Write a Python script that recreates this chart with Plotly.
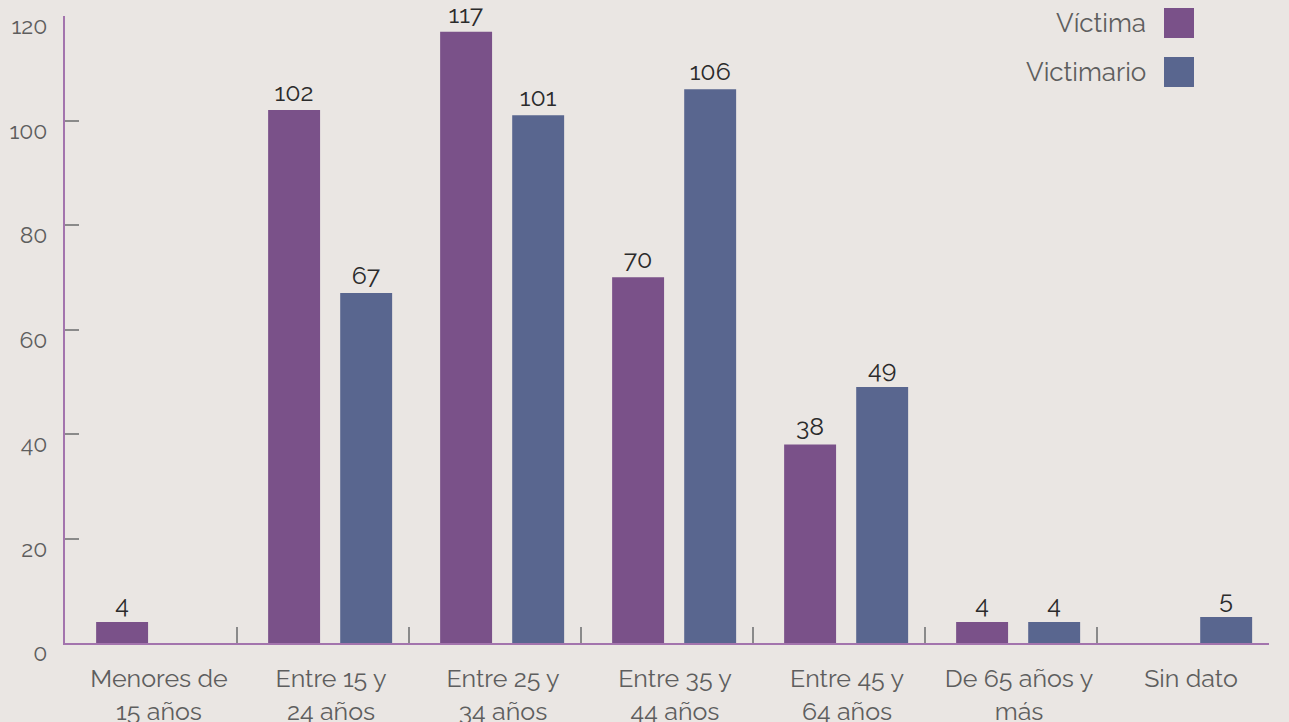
import plotly.graph_objects as go

categorias = ["Menores de<br>15 años", "Entre 15 y<br>24 años", "Entre 25 y<br>34 años",
              "Entre 35 y<br>44 años", "Entre 45 y<br>64 años", "De 65 años y<br>más", "Sin dato"]
victima = [4, 102, 117, 70, 38, 4, None]
victimario = [None, 67, 101, 106, 49, 4, 5]
y_ticks = [0, 20, 40, 60, 80, 100, 120]

COL_VICTIMA = "#7A5189"
COL_VICTIMARIO = "#59668F"
BG = "#EAE6E3"
FONT = "Raleway, Lato, 'Open Sans', sans-serif"

BAR_W = 0.302
series = [("Víctima", victima, COL_VICTIMA, -0.319), ("Victimario", victimario, COL_VICTIMARIO, 0.100)]

fig = go.Figure()
for name, vals, col, off in series:
    fig.add_trace(go.Bar(
        x=categorias, y=vals, name=name, marker_color=col, marker_line_width=0,
        width=BAR_W, offset=off,
        text=[("" if v is None else str(v)) for v in vals], textposition="outside",
        textfont=dict(size=25, color="#2b2b2b", family=FONT), cliponaxis=False,
        showlegend=False,
    ))

fig.update_layout(
    width=1289, height=722,
    margin=dict(l=65, r=20, t=16, b=79, autoexpand=False),
    paper_bgcolor=BG, plot_bgcolor=BG,
    barmode="group",
    font=dict(family=FONT, size=22, color="#5e5e5e"),
    xaxis=dict(
        type="category", showline=True, linecolor="#A374AD", linewidth=2,
        ticks="inside", tickson="boundaries", ticklen=16, tickcolor="#8a8a8a", tickwidth=1.5,
        tickfont=dict(size=25, color="#5e5e5e"), showgrid=False, zeroline=False,
        ticklabelstandoff=12, ticklabelshift=8, automargin=False,
    ),
    yaxis=dict(
        range=[0, 120], tickvals=y_ticks, showline=True, linecolor="#A374AD", linewidth=2,
        ticks="inside", ticklen=14, tickcolor="#8a8a8a", tickwidth=1.5,
        tickfont=dict(size=23, color="#5e5e5e"), showgrid=False, zeroline=False,
        ticklabelshift=10, ticklabelstandoff=11, ticklabeloverflow="allow", automargin=False,
    ),
)

# Custom legend (text to the left of the colored squares)
legend_items = [("Víctima", COL_VICTIMA, 1.0128, 0.9649), ("Victimario", COL_VICTIMARIO, 0.9346, 0.8868)]
for label, col, y1, y0 in legend_items:
    fig.add_shape(type="rect", xref="paper", yref="paper", x0=0.9128, x1=0.9377, y0=y0, y1=y1,
                  fillcolor=col, line_width=0)
    fig.add_annotation(text=label, xref="paper", yref="paper", x=0.8995, y=(y0 + y1) / 2,
                       xanchor="right", yanchor="middle", showarrow=False,
                       font=dict(size=26, color="#5e5e5e", family=FONT))

fig.write_html("out.html", config={"displayModeBar": False},
               post_script="document.body.style.margin='0';document.body.style.background='%s';" % BG)
